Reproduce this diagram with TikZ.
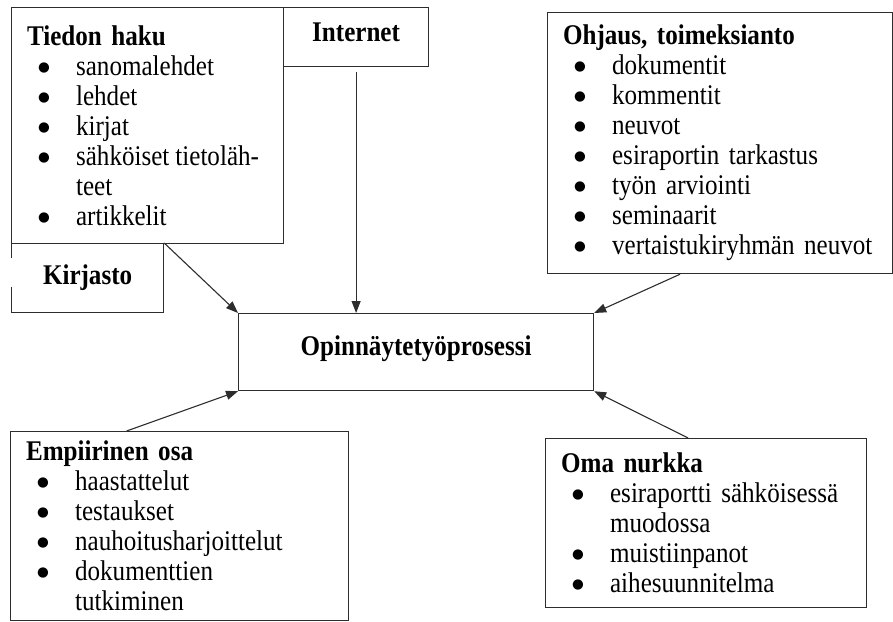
\documentclass[tikz,border=0pt]{standalone}
\usepackage{fontspec}
\setmainfont{Liberation Serif}[FakeStretch=0.88]
\newfontfamily\dotfont{DejaVu Sans}
\usetikzlibrary{arrows.meta,positioning}
\definecolor{ink}{RGB}{45,45,45}
\newcommand{\bul}{\hspace*{11pt}\makebox[38pt][l]{\raisebox{4pt}{\dotfont\fontsize{13.5}{13.5}\selectfont ●}}}
\newcommand{\cont}{\hspace*{49pt}}
\tikzset{
  frame/.style={draw=ink,line width=1.2pt,inner sep=0pt},
  listbox/.style={frame,anchor=north west,inner xsep=15.5pt,align=left,
    font=\fontsize{28.5}{30}\selectfont},
  title/.style={frame,anchor=north west,align=center,
    font=\fontsize{28.5}{30}\selectfont\bfseries},
  arr/.style={-{Triangle[length=12pt,width=9pt]},line width=1.1pt,ink},
}

\begin{document}
\begin{tikzpicture}[x=1pt,y=-1pt]
  \useasboundingbox (0,0) rectangle (893,621);

  \node[listbox,text width=241pt,minimum height=236pt] (tiedon) at (11,7)
    {\textbf{Tiedon haku}\\
     \bul sanomalehdet\\
     \bul lehdet\\
     \bul kirjat\\
     \bul sähköiset\hspace{6pt}tietoläh-\\
     \cont teet\\
     \bul artikkelit};
  \node[title,minimum width=145pt,minimum height=59pt] (internet) at (283,7)
    {\raisebox{10pt}{Internet}};
  \node[title,minimum width=152pt,minimum height=69pt] (kirjasto) at (11,243) {Kirjasto};
  \draw[white,line width=3pt] ([yshift=-15pt]kirjasto.north west) -- ([yshift=26pt]kirjasto.south west);

  \node[listbox,text width=314pt,minimum height=261pt] (ohjaus) at (547,12)
    {\textbf{Ohjaus, toimeksianto}\\
     \bul dokumentit\\
     \bul kommentit\\
     \bul neuvot\\
     \bul esiraportin tarkastus\\
     \bul työn arviointi\\
     \bul seminaarit\\
     \bul vertaistukiryhmän neuvot};

  \node[title,minimum width=355pt,minimum height=77pt] (keski) at (238,313)
    {\raisebox{13pt}{Opinnäytetyöprosessi}};

  \node[listbox,text width=307pt,minimum height=189pt] (empiirinen) at (10,431)
    {\textbf{Empiirinen osa}\\
     \bul haastattelut\\
     \bul testaukset\\
     \bul nauhoitusharjoittelut\\
     \bul dokumenttien\\
     \cont tutkiminen};
  \node[listbox,text width=290pt,minimum height=169pt] (oma) at (545,438)
    {\textbf{Oma nurkka}\\
     \bul esiraportti sähköisessä\\
     \cont muodossa\\
     \bul muistiinpanot\\
     \bul aihesuunnitelma};

  \draw[arr] (kirjasto.north east) -- (keski.north west);
  \draw[arr] ([yshift=-5pt]internet.south) -- (internet.south |- keski.north);
  \draw[arr] ([xshift=-40pt]ohjaus.south) -- (keski.north east);
  \draw[arr] ([xshift=-53pt]empiirinen.north) -- (keski.south west);
  \draw[arr] ([xshift=-18pt]oma.north) -- (keski.south east);
\end{tikzpicture}
\end{document}
